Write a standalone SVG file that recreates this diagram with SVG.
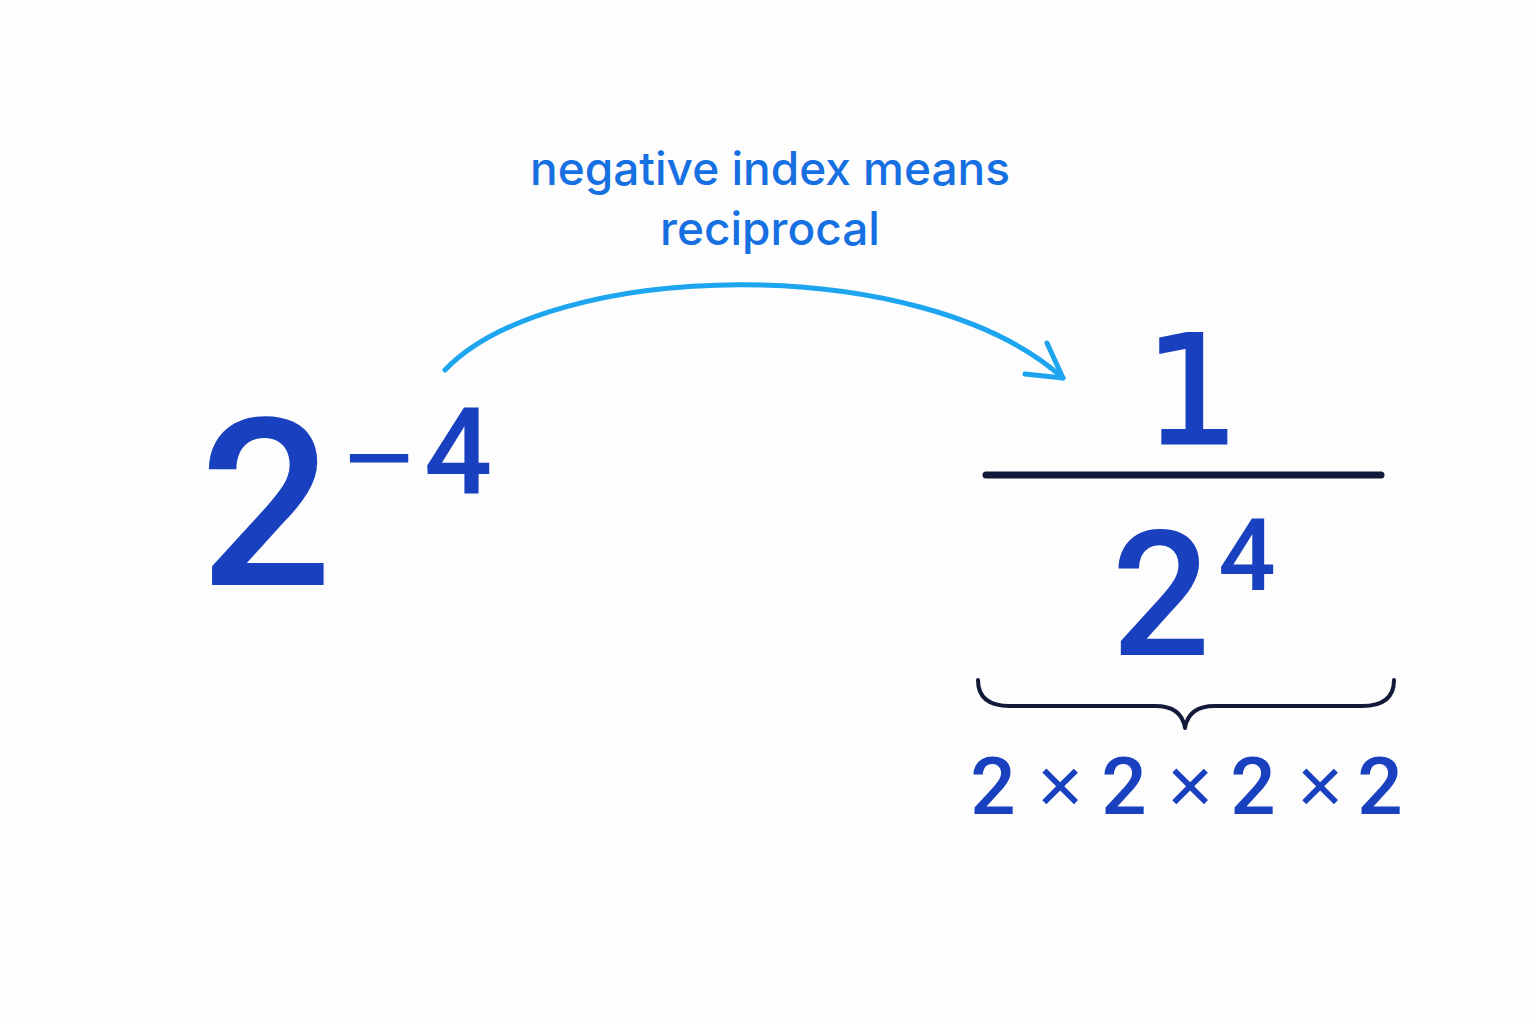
<svg xmlns="http://www.w3.org/2000/svg" width="1536" height="1024" viewBox="0 0 1536 1024">
<style>
.num{font-family:Roboto,"Liberation Sans",Arial,sans-serif;font-weight:500;fill:#1840bf;text-anchor:middle}
.one{font-family:"DejaVu Sans",sans-serif;font-weight:normal;fill:#1840bf;stroke:#1840bf;stroke-width:3;text-anchor:middle}
.x{font-family:"Liberation Sans",Arial,sans-serif;font-weight:normal;fill:#1840bf;text-anchor:middle}
.lbl{font-family:Inter,"Liberation Sans",sans-serif;font-weight:500;fill:#1670e2;text-anchor:middle;font-size:46px}
.ink{fill:none;stroke:#111a38;stroke-linecap:round;stroke-linejoin:round}
.arr{fill:none;stroke:#1ea5f0;stroke-width:5;stroke-linecap:round;stroke-linejoin:round}
</style>
<rect width="1536" height="1024" fill="#fdfdfd"/>
<g id="label">
<text class="lbl" x="770" y="185">negative index means</text>
<text class="lbl" x="770" y="245">reciprocal</text>
</g>
<g id="connectors">
<path class="arr" d="M445,370 C550,260 920,250 1063,378"/>
<path class="arr" d="M1025,374 L1063,378 L1047,343"/>
</g>
<g id="power-negative">
<text class="num" x="266" y="585" font-size="234">2</text>
<text class="x" x="379" y="498" font-size="120">−</text>
<text class="num" x="458" y="493" font-size="120">4</text>
</g>
<g id="fraction">
<text class="one" x="1192" y="443" font-size="150">1</text>
<path class="ink" stroke-width="7" d="M986,475 L1381,475"/>
<text class="num" x="1161" y="655" font-size="174">2</text>
<text class="num" x="1247" y="590" font-size="101">4</text>
</g>
<g id="brace">
<path class="ink" stroke-width="4" d="M978,680 C978,698 990,706 1010,706 L1155,706 C1174,706 1183,715 1185,728 C1187,715 1196,706 1215,706 L1362,706 C1382,706 1394,698 1394,680"/>
</g>
<g id="expansion">
<text class="num" x="993" y="814" font-size="80">2</text>
<text class="x" x="1060" y="813" font-size="80">×</text>
<text class="num" x="1124" y="814" font-size="80">2</text>
<text class="x" x="1190" y="813" font-size="80">×</text>
<text class="num" x="1253" y="814" font-size="80">2</text>
<text class="x" x="1320" y="813" font-size="80">×</text>
<text class="num" x="1380" y="814" font-size="80">2</text>
</g>
</svg>
